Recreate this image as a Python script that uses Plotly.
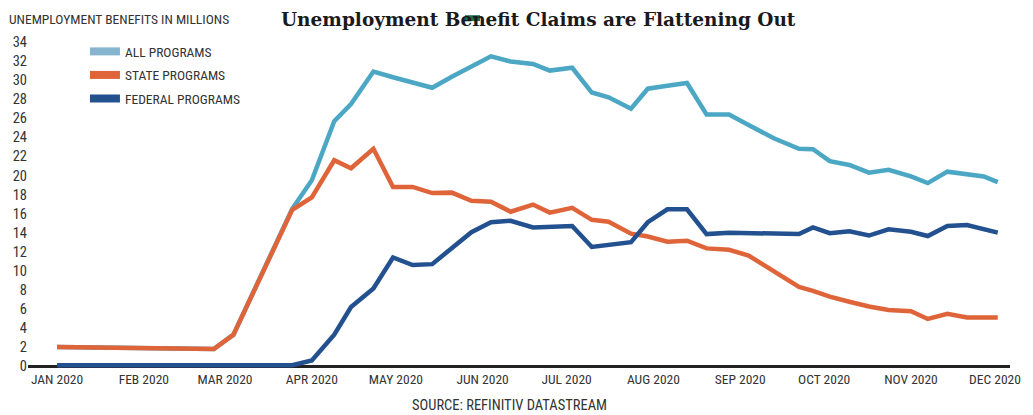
import plotly.graph_objects as go

dates = [
    "2020-01-01", "2020-02-26", "2020-03-04", "2020-03-25", "2020-04-01", "2020-04-09",
    "2020-04-15", "2020-04-23", "2020-04-30", "2020-05-07", "2020-05-14", "2020-05-21",
    "2020-05-28", "2020-06-04", "2020-06-11", "2020-06-19", "2020-06-25", "2020-07-03",
    "2020-07-10", "2020-07-16", "2020-07-24", "2020-07-30", "2020-08-06", "2020-08-13",
    "2020-08-20", "2020-08-28", "2020-09-04", "2020-09-13", "2020-09-22", "2020-09-27",
    "2020-10-03", "2020-10-10", "2020-10-17", "2020-10-24", "2020-11-01", "2020-11-07",
    "2020-11-14", "2020-11-21", "2020-11-27", "2020-12-02",
]

state_programs = [
    2.0, 1.8, 3.3, 16.4, 17.7, 21.6,
    20.75, 22.8, 18.8, 18.8, 18.15, 18.2,
    17.35, 17.25, 16.2, 16.95, 16.1, 16.6,
    15.35, 15.15, 13.9, 13.6, 13.05, 13.15,
    12.35, 12.2, 11.6, 9.95, 8.3, 7.9,
    7.3, 6.75, 6.25, 5.9, 5.75, 4.95,
    5.5, 5.1, 5.1, 5.1,
]

federal_programs = [
    0.1, 0.1, 0.1, 0.1, 0.6, 3.3,
    6.2, 8.15, 11.4, 10.6, 10.7, 12.45,
    14.05, 15.1, 15.25, 14.55, 14.6, 14.7,
    12.5, 12.7, 13.0, 15.1, 16.45, 16.45,
    13.85, 14.0, 13.95, 13.9, 13.85, 14.55,
    13.95, 14.15, 13.7, 14.35, 14.1, 13.65,
    14.7, 14.8, 14.4, 14.0,
]

all_programs = [
    2.0, 1.8, 3.3, 16.5, 19.5, 25.7,
    27.5, 30.9, 30.3, 29.7, 29.2, 30.35,
    31.4, 32.5, 31.95, 31.7, 31.0, 31.3,
    28.7, 28.2, 27.0, 29.1, 29.4, 29.7,
    26.4, 26.4, 25.3, 23.9, 22.8, 22.75,
    21.5, 21.1, 20.3, 20.6, 19.9, 19.2,
    20.4, 20.15, 19.9, 19.3,
]

month_ticks = ["2020-01-01", "2020-02-01", "2020-03-01", "2020-04-01", "2020-05-01",
               "2020-06-01", "2020-07-01", "2020-08-01", "2020-09-01", "2020-10-01",
               "2020-11-01", "2020-12-01"]
month_labels = ["JAN 2020", "FEB 2020", "MAR 2020", "APR 2020", "MAY 2020", "JUN 2020",
                "JUL 2020", "AUG 2020", "SEP 2020", "OCT 2020", "NOV 2020", "DEC 2020"]
y_ticks = list(range(0, 35, 2))

series = [
    ("ALL PROGRAMS", all_programs, "#4ba7c4", "#86b6cf"),
    ("STATE PROGRAMS", state_programs, "#e0643a", "#e0643a"),
    ("FEDERAL PROGRAMS", federal_programs, "#23508f", "#23508f"),
]

COND = "Roboto Condensed, Liberation Sans Narrow, Arial Narrow, DejaVu Sans Condensed, sans-serif"

fig = go.Figure()
for name, vals, color, lcolor in series:
    fig.add_trace(go.Scatter(x=dates, y=vals, mode="lines", name=name,
                             line=dict(color=color, width=4.5), showlegend=False,
                             hoverinfo="x+y+name"))
for name, vals, color, lcolor in series:
    fig.add_trace(go.Scatter(x=[None], y=[None], mode="lines", name=name,
                             legendgroup=name,
                             line=dict(color=lcolor, width=8), showlegend=True))

fig.update_layout(
    width=1033, height=415,
    margin=dict(l=28, r=23, t=42, b=46),
    paper_bgcolor="white", plot_bgcolor="white",
    font=dict(family=COND, size=13.5, color="#333333"),
    title=dict(text="<b>Unemployment Benefit Claims are Flattening Out</b>",
               font=dict(family="DejaVu Serif, Liberation Serif, serif", size=18.5, color="#1a1a1a"),
               x=0.521, xanchor="center", y=0.952, yanchor="middle"),
    legend=dict(x=0.058, y=1.018, xanchor="left", yanchor="top",
                bgcolor="rgba(0,0,0,0)", borderwidth=0, tracegroupgap=3,
                font=dict(family=COND, size=13.5, color="#333333")),
    xaxis=dict(type="date", range=["2019-12-21 15:00", "2020-12-06 09:00"],
               tickvals=month_ticks, ticktext=month_labels,
               showgrid=False, zeroline=False, showline=False, ticks="",
               tickfont=dict(family=COND, size=13.5, color="#333333")),
    yaxis=dict(range=[-0.3, 34], tickvals=y_ticks, showgrid=False,
               zeroline=True, zerolinecolor="#222222", zerolinewidth=2.5,
               showline=False, ticks="",
               tickfont=dict(family=COND, size=14.5, color="#333333")),
    annotations=[
        dict(text="UNEMPLOYMENT BENEFITS IN MILLIONS", xref="paper", yref="paper",
             x=-0.021, y=1.07, xanchor="left", yanchor="middle", showarrow=False,
             font=dict(family=COND, size=13.5, color="#333333")),
        dict(text="SOURCE: REFINITIV DATASTREAM", xref="paper", yref="paper",
             x=0.49, y=-0.112, xanchor="center", yanchor="middle", showarrow=False,
             font=dict(family=COND, size=14.5, color="#333333")),
    ],
    shapes=[dict(type="rect", xref="paper", yref="paper", x0=0.445, x1=0.4603,
                 y0=1.064, y1=1.082, fillcolor="#1f6e4f", line=dict(width=0))],
)

fig.write_html("out.html", config={"displayModeBar": False},
               post_script="document.body.style.margin='0';")
